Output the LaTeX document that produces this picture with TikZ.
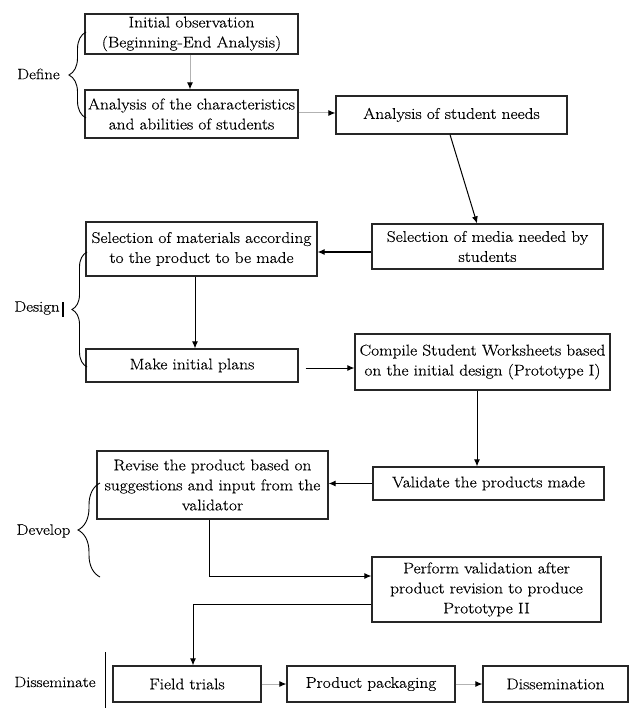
\documentclass[tikz,border=0pt]{standalone}
\usepackage{fontspec}
\usetikzlibrary{arrows.meta,decorations.pathreplacing,calc}
\newfontfamily\diagfont{Latin Modern Roman}[FakeStretch=1.12, FakeBold=0.4]
\begin{document}
\begin{tikzpicture}[x=1pt,y=-1pt,
  box/.style={draw=black!85, line width=1.2pt, align=center, inner sep=0pt, font=\diagfont\fontsize{15.5}{20}\selectfont},
  lbl/.style={font=\diagfont\fontsize{15}{18}\selectfont, inner sep=0pt},
  arr/.style={line width=1pt, -{Latex[length=7pt,width=6pt]}},
  garr/.style={line width=1pt, draw=gray!60, -{Latex[length=7pt,width=6pt,color=black]}},
  brc/.style={line width=0.9pt, decorate, decoration={brace, amplitude=#1}}
]
\fill[white] (0,0) rectangle (632,708);
\useasboundingbox (0,0) rectangle (632,708);

% Define
\node[box, minimum width=213pt, minimum height=40pt, text width=211pt] (b1) at (191.5,34) {Initial observation\\(Beginning-End Analysis)};
\node[box, minimum width=213pt, minimum height=48pt, text width=211pt] (b2) at (191.5,114) {Analysis of the characteristics\\and abilities of students};
\node[box, minimum width=231pt, minimum height=38pt, text width=227pt] (b3) at (451.5,115) {Analysis of student needs};
\node[box, minimum width=231pt, minimum height=45pt, text width=227pt] (b4) at (487.5,246.5) {Selection of media needed by\\students};

% Design
\node[box, minimum width=231pt, minimum height=54pt, text width=229pt] (b5) at (201.5,249) {Selection of materials according\\to the product to be made};
\node[box, minimum width=212pt, minimum height=33pt, text width=208pt] (b6) at (192,365.5) {Make initial plans};
\node[box, minimum width=255pt, minimum height=56pt, text width=253pt] (b7) at (482.5,362) {Compile Student Worksheets based\\on the initial design (Prototype I)};

% Develop
\node[box, minimum width=231pt, minimum height=33pt, text width=227pt] (b8) at (488.5,483.5) {Validate the products made};
\node[box, minimum width=231pt, minimum height=68pt, text width=229pt] (b9) at (212.5,485) {Revise the product based on\\suggestions and input from the\\validator};
\node[box, minimum width=229pt, minimum height=65pt, text width=225pt] (b10) at (486.5,589.5) {Perform validation after\\product revision to produce\\Prototype II};

% Disseminate
\node[box, minimum width=148pt, minimum height=36pt, text width=144pt] (b11) at (187,684) {Field trials};
\node[box, minimum width=168pt, minimum height=36pt, text width=164pt] (b12) at (371,684) {Product packaging};
\node[box, minimum width=145pt, minimum height=36pt, text width=141pt] (b13) at (555.5,684) {Dissemination};

% labels
\node[lbl] (lDefine) at (38.5,74) {Define};
\node[lbl] (lDesign) at (37,308) {Design};
\node[lbl] (lDevelop) at (43.5,531) {Develop};
\node[lbl] (lDiss) at (55,682) {Disseminate};

% braces
\draw[brc=17pt] (86,118) -- (86,32);
\draw[brc=15pt] (87,367) -- (87,252);
\draw[brc=22pt] (100,577) -- (100,483);
\draw[line width=1pt] (105,652) -- (105,708);
\draw[line width=1.6pt] (63,302) -- (63,317);

% connectors
\draw[garr] ($(b1.south)+(-1.5,0)$) -- ($(b2.north)+(-1.5,0)$);
\draw[garr] ($(b2.east)+(0,-1)$) -- ($(b3.west)+(0,-2)$);
\draw[arr] ($(b3.south)+(-1.5,0)$) -- ($(b4.north)+(-10.5,0)$);
\draw[arr] ($(b4.west)+(0,5.5)$) -- ($(b5.east)+(0,3)$);
\draw[arr] ($(b5.south)+(-6.5,0)$) -- ($(b6.north)+(3,0)$);
\draw[arr] ($(b6.east)+(7,2.5)$) -- ($(b7.west)+(0,6)$);
\draw[arr] ($(b7.south)+(-5.5,0)$) -- ($(b8.north)+(-11.5,0)$);
\draw[arr] (b8.west) -- (b8.west -| b9.east);
\draw[arr] ($(b9.south)+(-3.5,0)$) |- ($(b10.west)+(0,-13.5)$);
\draw[arr] ($(b10.west)+(0,14.5)$) -| ($(b11.north)+(6,0)$);
\draw[garr] (b11) -- (b12);
\draw[garr] (b12) -- (b13);
\end{tikzpicture}
\end{document}
